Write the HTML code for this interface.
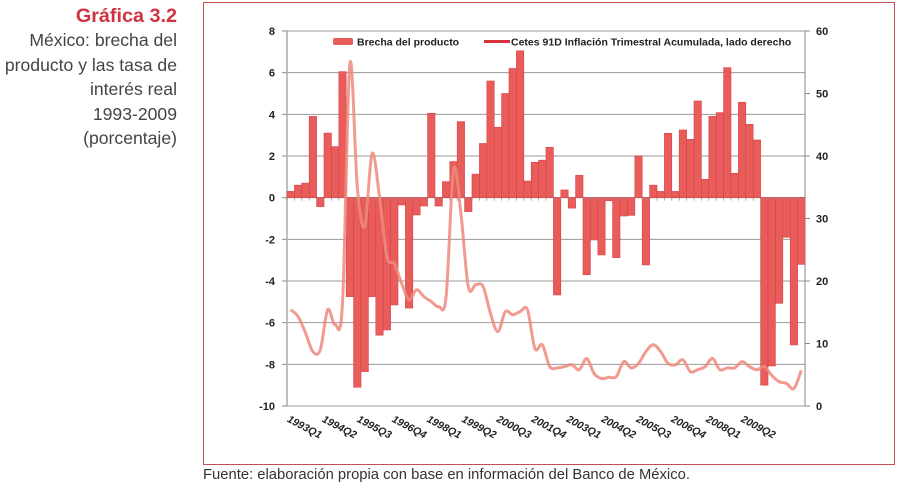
<!DOCTYPE html>
<html><head><meta charset="utf-8">
<style>
body{margin:0;width:899px;height:487px;background:#fff;position:relative;overflow:hidden;font-family:"Liberation Sans",sans-serif}
.side{position:absolute;right:722px;top:4px;text-align:right;color:#444;font-size:17.6px;line-height:24.5px;white-space:nowrap}
.side .t{color:#d2323f;font-weight:bold;font-size:19.8px;line-height:24px}
.foot{position:absolute;left:203px;top:467px;font-size:14.8px;color:#333;white-space:nowrap}
svg{position:absolute;left:0;top:0}
</style></head><body>
<div class="side">
<div class="t">Gráfica 3.2</div>
<div>México: brecha del<br>producto y las tasa de<br>interés real<br>1993-2009<br>(porcentaje)</div>
</div>
<svg id="c" width="899" height="487"></svg>
<div class="foot">Fuente: elaboración propia con base en información del Banco de México.</div>
<script>
const gapValues=[0.3,0.6,0.7,3.9,-0.43,3.1,2.45,6.05,-4.75,-9.1,-8.35,-4.75,-6.6,-6.35,-5.15,-0.35,-5.3,-0.83,-0.4,4.05,-0.4,0.77,1.73,3.65,-0.67,1.13,2.6,5.6,3.38,5.0,6.2,7.05,0.8,1.7,1.8,2.42,-4.67,0.37,-0.5,1.07,-3.7,-2.03,-2.75,-0.15,-2.88,-0.88,-0.85,2.0,-3.23,0.6,0.3,3.09,0.3,3.25,2.8,4.64,0.88,3.9,4.08,6.24,1.17,4.58,3.52,2.77,-9.0,-8.08,-5.07,-1.9,-7.07,-3.2];
const rateValues=[15.4,14.3,11.7,8.7,9.0,15.4,13,16.5,54.8,35.1,28.7,40.4,33.5,23.9,22.8,19.6,17,18.6,17.5,16.7,15.9,17.5,37.8,30.8,19.1,19.4,19.1,14.8,11.9,15.1,14.6,15.1,15.4,9.2,9.8,6.3,6.1,6.3,6.6,5.8,7.6,5.2,4.4,4.6,4.7,7.1,6.1,6.8,8.7,9.8,8.7,6.8,6.6,7.4,5.5,5.8,6.3,7.6,5.8,6.1,6.1,7.1,6.3,5.8,6.3,4.9,3.9,3.6,2.8,5.7];
const xLabels=["1993Q1","1994Q2","1995Q3","1996Q4","1998Q1","1999Q2","2000Q3","2001Q4","2003Q1","2004Q2","2005Q3","2006Q4","2008Q1","2009Q2"];
const leftTicks=[8,6,4,2,0,-2,-4,-6,-8,-10];
const rightTicks=[60,50,40,30,20,10,0];
const NS="http://www.w3.org/2000/svg",svg=document.getElementById('c');
const X0=287,X1=805,Y0=31,Y1=406;
const n=gapValues.length,bw=(X1-X0)/n;
const yL=v=>Y0+(8-v)*(Y1-Y0)/18;
const yR=v=>Y1-v*(Y1-Y0)/60;
const xc=i=>X0+bw*(i+0.5);
function mk(t,a,p){const e=document.createElementNS(NS,t);for(const k in a)e.setAttribute(k,a[k]);(p||svg).appendChild(e);return e;}
const frame=mk('rect',{x:203.5,y:2.5,width:691,height:462,fill:'none',stroke:'#c0504d','stroke-width':1});


leftTicks.forEach(v=>{
 const g=mk('line',{x1:X0,x2:X1,y1:yL(v),y2:yL(v),stroke:v===0?'#777':'#999','stroke-width':1});
 
 
 mk('line',{x1:X0-5,x2:X0,y1:yL(v),y2:yL(v),stroke:'#888'});
 const t=mk('text',{x:275,y:yL(v)+4,'text-anchor':'end','font-size':11,'font-weight':'bold',fill:'#222'});
 t.textContent=v;
 
 
});
rightTicks.forEach(v=>{
 mk('line',{x1:X1,x2:X1+5,y1:yR(v),y2:yR(v),stroke:'#888'});
 const t=mk('text',{x:816,y:yR(v)+4,'font-size':11,'font-weight':'bold',fill:'#222'});
 t.textContent=v;
 
 
});
mk('line',{x1:X0,x2:X0,y1:Y0,y2:Y1,stroke:'#aaa','stroke-width':1.5});
mk('line',{x1:X1,x2:X1,y1:Y0,y2:Y1,stroke:'#888'});
gapValues.forEach((v,i)=>{
 const y=Math.min(yL(v),yL(0)),h=Math.max(Math.abs(yL(v)-yL(0)),1.5);
 const r=mk('rect',{x:X0+bw*i,y:y,width:bw,height:h,fill:'#e85d5a',stroke:'#d9404a','stroke-width':0.6});
 
 
});
for(let i=0;i<=n;i++)mk('line',{x1:X0+bw*i,x2:X0+bw*i,y1:yL(0),y2:yL(0)+3,stroke:'#888','stroke-width':0.7});
let d='';
const pts=rateValues.map((v,i)=>[xc(i),yR(v)]);
pts.forEach((p,i)=>{
 if(i===0){d+='M'+p[0]+','+p[1];return;}
 const p0=pts[Math.max(i-2,0)],p1=pts[i-1],p3=pts[Math.min(i+1,pts.length-1)];
 const c1=[p1[0]+(p[0]-p0[0])/6,p1[1]+(p[1]-p0[1])/6],c2=[p[0]-(p3[0]-p1[0])/6,p[1]-(p3[1]-p1[1])/6];
 d+=`C${c1[0]},${c1[1]} ${c2[0]},${c2[1]} ${p[0]},${p[1]}`;
});
const ln=mk('path',{d:d,fill:'none',stroke:'#ee8a7c','stroke-width':3,'stroke-opacity':0.85,'stroke-linejoin':'round'});


xLabels.forEach((s,k)=>{
 const cx=303+k*34.9,cy=430;
 const t=mk('text',{x:cx,y:cy,'text-anchor':'middle','font-size':10.5,'font-weight':'bold',fill:'#222',transform:`rotate(28 ${cx} ${cy})`,'font-style':'italic'});
 t.textContent=s;
 
 
});
const lg=mk('g',{});


const s1=mk('rect',{x:333,y:38,width:20,height:7,fill:'#e85d5a',rx:2},lg);


const t1=mk('text',{x:357,y:45.5,'font-size':10.5,'font-weight':'bold',fill:'#222'},lg);
t1.textContent='Brecha del producto';


const s2=mk('line',{x1:484,x2:510,y1:41.5,y2:41.5,stroke:'#d9303d','stroke-width':3},lg);


const t2=mk('text',{x:511,y:45.5,'font-size':10.5,'font-weight':'bold',fill:'#222'},lg);
t2.textContent='Cetes 91D Inflación Trimestral  Acumulada, lado derecho';


</script>
</body></html>
